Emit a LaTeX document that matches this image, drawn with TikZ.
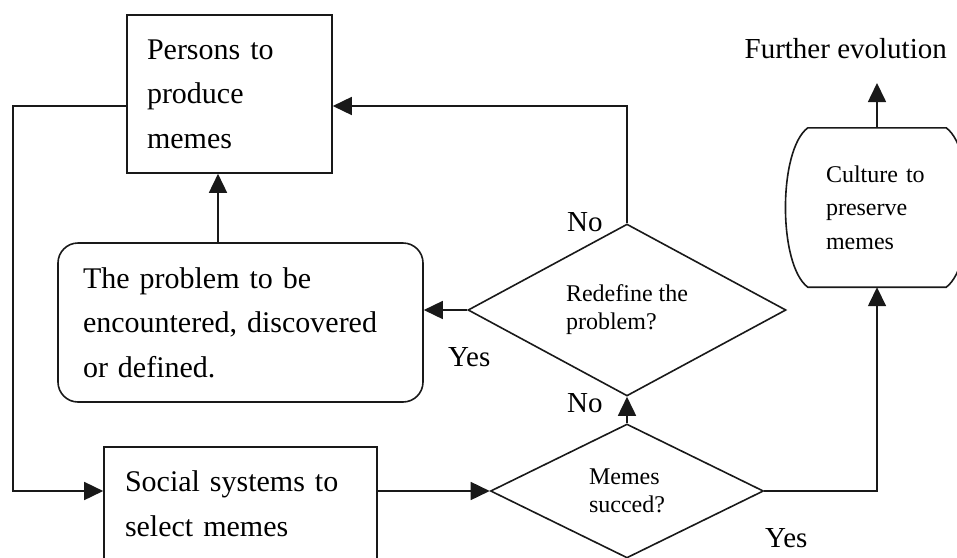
\documentclass[tikz,border=0pt]{standalone}
\usepackage{fontspec}
\setmainfont{Liberation Serif}
\usetikzlibrary{shapes.geometric,arrows.meta}

\newcommand\bodysize{\fontsize{30}{44.5}\selectfont}
\newcommand\smallsize{\fontsize{24}{28}\selectfont}
\newcommand\culturesize{\fontsize{24}{33.5}\selectfont}
\newcommand\labelsize{\fontsize{29}{34}\selectfont}

\tikzset{
  stroke/.style={line width=1.6pt, draw=black!90},
  procbox/.style={stroke, rectangle, align=left, inner ysep=0pt, font=\bodysize},
  decision/.style={stroke, diamond, inner sep=0pt, align=left, font=\smallsize},
  flow/.style={stroke, -{Triangle[length=19pt,width=18pt]}},
  lbl/.style={inner sep=0pt, font=\labelsize},
}

\begin{document}
\begin{tikzpicture}[x=1pt, y=-1pt]
  \useasboundingbox (0,0) rectangle (957,557);
  \clip (0,0) rectangle (957,557);

  % process boxes
  \node[procbox, text width=165pt, inner xsep=20pt, minimum height=158pt]
    (persons) at (229.5,94) {Persons to\\produce\\memes};
  \node[procbox, rounded corners=20pt, text width=315pt, inner xsep=25pt, minimum height=159pt]
    (problem) at (240.5,322.5) {The problem to be\\encountered, discovered\\or defined.};
  \node[procbox, text width=231pt, inner xsep=21pt, minimum height=113pt]
    (social) at (240.5,503.5) {Social systems to\\select memes};

  % decisions
  \node[decision, minimum width=318pt, minimum height=134pt]
    (redefine) at (627,310) {Redefine the\\problem?};
  \node[decision, minimum width=273pt, minimum height=134pt]
    (memes) at (627,491) {Memes\\succed?};

  % storage-like culture node with bulging sides
  \node[rectangle, inner ysep=0pt, inner xsep=18pt, text width=102pt, minimum height=159pt,
        align=left, font=\culturesize]
    (culture) at (877,207.5) {Culture to\\preserve\\memes};
  \draw[stroke] (culture.north west) -- (culture.north east)
    .. controls (976,150) and (976,265) .. (culture.south east)
    -- (culture.south west)
    .. controls (778,265) and (778,150) .. (culture.north west);

  \node[lbl, anchor=base east] (further) at (947,58) {Further evolution};

  % branch labels
  \node[lbl, anchor=base west] (noTop) at (567,231) {No};
  \node[lbl, anchor=base west] (yesLeft) at (448,366) {Yes};
  \node[lbl, anchor=base west] (noMid) at (567,412) {No};
  \node[lbl, anchor=base west] (yesRight) at (765,547) {Yes};

  % routing points
  \coordinate (loopTop) at (13,106);
  \coordinate (loopBot) at (13,491);
  \coordinate (backTop) at (627,106);
  \coordinate (upLine) at (218,0);
  \coordinate (evoTip) at (877,83);

  % connectors
  \draw[flow] (persons.west |- loopTop) -- (loopTop) -- (loopBot) -- (social.west |- loopBot);
  \draw[flow] (social.east |- memes.west) -- (memes.west);
  \draw[flow] (memes.north) -- (redefine.south);
  \draw[flow] (redefine.west) -- (problem.east |- redefine.west);
  \draw[flow] (problem.north -| upLine) -- (persons.south -| upLine);
  \draw[flow] (redefine.north) -- (backTop) -- (persons.east |- backTop);
  \draw[flow] (memes.east) -- (culture.south |- memes.east) -- (culture.south);
  \draw[flow] (culture.north) -- (evoTip);
\end{tikzpicture}
\end{document}
